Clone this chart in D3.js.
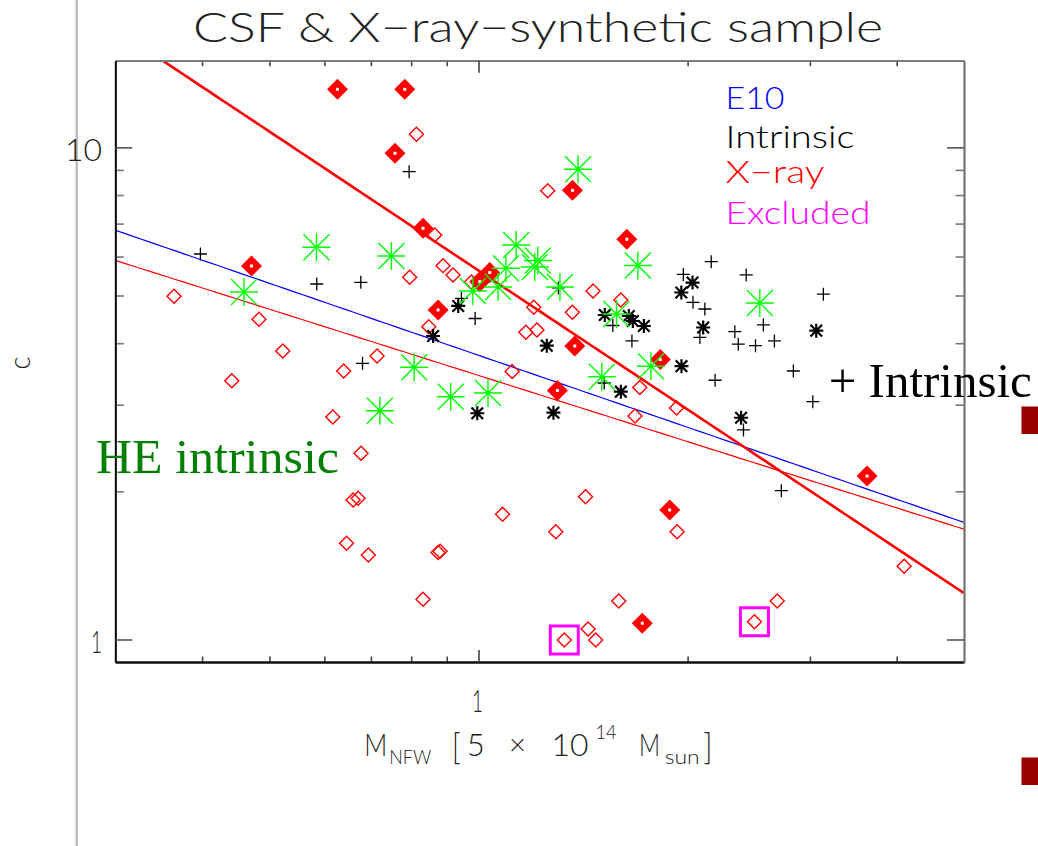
<!DOCTYPE html>
<html>
<head>
<meta charset="utf-8">
<script src="https://cdn.jsdelivr.net/npm/d3@7"></script>
<style>
  body { margin: 0; background: #fff; }
  svg { display: block; }
</style>
</head>
<body>
<svg id="chart" width="1038" height="846"></svg>
<script>
// Mass in units of 5e14 Msun, c = NFW concentration

// X-ray, open diamonds
const xrayM = [0.814, 0.865, 0.889, 0.919, 0.796, 0.3645, 0.483, 0.5227, 0.4414, 0.6397,
  0.7145, 0.848, 0.617, 0.6776, 0.66, 0.671, 0.6457, 0.694, 0.8747, 0.8805,
  1.083, 1.118, 0.832, 0.977, 1.201, 1.365, 1.462, 1.603, 1.17, 1.214,
  1.707, 1.928, 1.68, 1.258, 1.426, 1.292, 1.932, 4.10, 1.592, 2.692,
  1.438, 1.475, 1.329, 2.496];
const xrayC = [10.63, 6.637, 5.75, 5.505, 5.445, 4.982, 4.473, 3.857, 3.357, 3.512,
  3.768, 4.321, 2.832, 2.39, 1.92, 1.936, 1.569, 1.485, 1.502, 1.511,
  1.796, 3.504, 1.207, 5.326, 4.732, 4.623, 5.107, 4.896, 4.209, 4.255,
  3.251, 2.954, 2.846, 8.166, 1.951, 1.656, 1.656, 1.408, 1.197, 1.197,
  1.05, 0.998, 0.998, 1.087];

// X-ray, bold diamonds
const xrayBoldM = [0.6266, 0.7832, 0.7583, 0.4712, 0.8322, 1.3655, 1.635, 1.004, 1.038, 0.8747,
  1.376, 1.827, 1.299, 3.626, 1.885, 1.721];
const xrayBoldC = [13.12, 13.12, 9.727, 5.741, 6.847, 8.179, 6.505, 5.335, 5.565, 4.673,
  3.948, 3.707, 3.206, 2.148, 1.833, 1.079];

// Excluded clusters (boxed)
const excludedM = [1.329, 2.496];
const excludedC = [0.998, 1.087];

// Intrinsic, plus signs
const intrinsicM = [0.7946, 0.3978, 0.585, 0.677, 0.6808, 0.989, 0.945, 1.303, 1.561, 1.663,
  1.517, 2.163, 1.972, 2.429, 3.137, 2.036, 2.118, 2.571, 2.339, 2.366,
  2.505, 2.667, 2.083, 2.191, 2.84, 3.029, 2.407, 2.729];
const intrinsicC = [8.925, 6.072, 5.277, 5.318, 3.641, 4.49, 4.931, 5.18, 4.345, 4.043,
  3.32, 5.858, 5.517, 5.505, 5.031, 4.843, 4.694, 4.356, 4.221, 3.981,
  3.954, 4.043, 4.109, 3.363, 3.512, 3.042, 2.666, 2.006];

// Intrinsic, asterisks
const intrinsicStarM = [0.935, 0.8603, 1.254, 1.52, 1.646, 1.668, 1.73, 0.996, 1.282, 1.603,
  1.96, 2.106, 2.033, 1.959, 2.388, 3.064];
const intrinsicStarC = [4.761, 4.137, 3.954, 4.564, 4.543, 4.438, 4.335, 2.882, 2.89, 3.188,
  3.592, 4.305, 5.313, 5.071, 2.822, 4.242];

// HE intrinsic, large green asterisks
const heM = [0.5844, 0.7493, 0.4597, 1.391, 1.133, 1.217, 1.205, 1.095, 1.067, 0.9813,
  1.31, 1.696, 1.58, 2.541, 1.505, 1.771, 0.808, 0.721, 0.912, 1.032];
const heC = [6.266, 6.016, 5.083, 9.026, 6.333, 5.89, 5.714, 5.68, 5.204, 5.107,
  5.204, 5.754, 4.585, 4.829, 3.42, 3.591, 3.574, 2.917, 3.114, 3.169];

// Power-law relations c = norm * M^slope
const fitNames = ["E10", "X-ray", "X-ray steep"];
const fitNorm = [3.78, 3.44, 5.62];
const fitSlope = [-0.486, -0.447, -0.938];
const fitColor = ["#0000ff", "#ff0000", "#ff0000"];
const fitWidth = [1.2, 1.2, 2.6];

// Axis ticks
const xMajorTicks = [1];
const xMinorTicks = [0.4, 0.5, 0.6, 0.7, 0.8, 0.9, 2, 3, 4];
const yMajorTicks = [1, 10];
const yMinorTicks = [2, 3, 4, 5, 6, 7, 8, 9];

// Legend
const legendLabels = ["E10", "Intrinsic", "X\u2212ray", "Excluded"];
const legendColors = ["#0000ff", "#000000", "#ff0000", "#ff00ff"];

const thin = "Lato, 'Open Sans', sans-serif";
const serif = "'Liberation Serif', 'Times New Roman', serif";

const svg = d3.select("#chart");
const L = 115.3, R = 964, T = 60.7, B = 662;

const x = d3.scaleLog().domain([0.3, 5]).range([L, R]);
const y = d3.scaleLog().domain([0.9, 15]).range([B, T]);

// side decorations
svg.append("rect").attr("x", 75.5).attr("y", 0).attr("width", 2.5).attr("height", 846).attr("fill", "#bdbdbd");
svg.append("rect").attr("x", 1021.5).attr("y", 406.5).attr("width", 27).attr("height", 27.5).attr("fill", "#990000");
svg.append("rect").attr("x", 1021.5).attr("y", 757.5).attr("width", 27).attr("height", 27.5).attr("fill", "#990000");

svg.append("defs").append("clipPath").attr("id", "plotClip")
  .append("rect").attr("x", L).attr("y", T).attr("width", R - L).attr("height", B - T);

// relation lines
const plot = svg.append("g").attr("clip-path", "url(#plotClip)");
const mGrid = d3.range(0, 101).map(i => 0.3 * Math.pow(5 / 0.3, i / 100));
fitNorm.forEach((n, i) => {
  const line = d3.line().x(m => x(m)).y(m => y(n * Math.pow(m, fitSlope[i])));
  plot.append("path").datum(mGrid).attr("d", line)
    .attr("fill", "none").attr("stroke", fitColor[i]).attr("stroke-width", fitWidth[i]);
});

const zip = (a, b) => a.map((v, i) => [v, b[i]]);
const pts = (g, data, d, attrs) => {
  const sel = g.selectAll(null).data(data).enter().append("path")
    .attr("transform", p => `translate(${x(p[0])},${y(p[1])})`).attr("d", d);
  Object.entries(attrs).forEach(([k, v]) => sel.attr(k, v));
  return sel;
};

const marks = svg.append("g");
// open X-ray diamonds
pts(marks, zip(xrayM, xrayC), "M0,-7L7,0L0,7L-7,0Z", { fill: "none", stroke: "#ff0000", "stroke-width": 1.4 });
// bold X-ray diamonds with white centre
pts(marks, zip(xrayBoldM, xrayBoldC), "M0,-10.5L10.5,0L0,10.5L-10.5,0Z", { fill: "#ff0000", stroke: "none" });
pts(marks, zip(xrayBoldM, xrayBoldC), "M-1.5,-1.5H1.5V1.5H-1.5Z", { fill: "#ffffff" });
// intrinsic plus
pts(marks, zip(intrinsicM, intrinsicC), "M-6.5,0H6.5M0,-6.5V6.5", { fill: "none", stroke: "#000", "stroke-width": 1.3 });
// intrinsic asterisks
pts(marks, zip(intrinsicStarM, intrinsicStarC), "M-7,0H7M0,-7V7M-5.8,-5.8L5.8,5.8M-5.8,5.8L5.8,-5.8", { fill: "none", stroke: "#000", "stroke-width": 2.2 });
// HE intrinsic asterisks
pts(marks, zip(heM, heC), "M-14,0H14M0,-14V14M-13,-13L13,13M-13,13L13,-13", { fill: "none", stroke: "#00ff00", "stroke-width": 1.4 });
// excluded boxes
pts(marks, zip(excludedM, excludedC), "M-14,-14H14V14H-14Z", { fill: "none", stroke: "#ff00ff", "stroke-width": 3 });

// axes
function styleAxis(g, lineColor, tickColor) {
  g.select(".domain").attr("stroke", lineColor).attr("stroke-width", 1.8);
  g.selectAll(".tick line").attr("stroke", tickColor).attr("stroke-width", 1.6);
  g.selectAll(".tick text").remove();
}
const mk = (axisFn, scale, ticks, size) => axisFn(scale).tickValues(ticks).tickSizeInner(size).tickSizeOuter(0).tickFormat("");

const axes = svg.append("g");
[[d3.axisBottom, B, "#111"], [d3.axisTop, T, "#777"]].forEach(([fn, pos, col]) => {
  const g1 = axes.append("g").attr("transform", `translate(0,${pos})`).call(mk(fn, x, xMinorTicks, -5.5));
  styleAxis(g1, col, "#444");
  const g2 = axes.append("g").attr("transform", `translate(0,${pos})`).call(mk(fn, x, xMajorTicks, -12));
  styleAxis(g2, col, "#444");
});
[[d3.axisLeft, L, "#111"], [d3.axisRight, R, "#777"]].forEach(([fn, pos, col]) => {
  const g1 = axes.append("g").attr("transform", `translate(${pos},0)`).call(mk(fn, y, yMinorTicks, -8.5));
  styleAxis(g1, col, "#777");
  const g2 = axes.append("g").attr("transform", `translate(${pos},0)`).call(mk(fn, y, yMajorTicks, -17));
  styleAxis(g2, col, "#555");
});

// text helper
const txt = (s, px, py, opts = {}) => {
  const t = svg.append("text").attr("x", px).attr("y", py).text(s)
    .attr("font-family", opts.family || thin).attr("font-weight", opts.weight || 300)
    .attr("font-size", opts.size || 30).attr("fill", opts.color || "#222");
  if (opts.anchor) t.attr("text-anchor", opts.anchor);
  if (opts.len) t.attr("textLength", opts.len).attr("lengthAdjust", "spacingAndGlyphs");
  if (opts.transform) t.attr("transform", opts.transform);
  return t;
};

// tick labels
yMajorTicks.forEach(v => txt(String(v), 102, y(v) + 13.5, { anchor: "end", size: 32, len: v >= 10 ? 37 : 11 }));
xMajorTicks.forEach(v => txt(String(v), x(v) - 1, 712, { anchor: "middle", size: 32, len: 11 }));

// title
txt("CSF & X\u2212ray\u2212synthetic sample", 193, 42, { size: 42, len: 690 });

// axis titles
txt("c", 29.5, 363, { anchor: "middle", size: 30, len: 13, transform: "rotate(-90,29.5,363)" });
txt("M", 364.3, 756, { size: 32, len: 23 });
txt("NFW", 389.3, 764, { size: 20, len: 42 });
txt("[", 451.7, 759, { size: 36, len: 9 });
txt("5", 466.7, 756, { size: 32, len: 18 });
txt("\u00d7", 509, 755, { size: 30, len: 17 });
txt("10", 551.5, 756, { size: 32, len: 37 });
txt("14", 595.4, 739, { size: 20, len: 21 });
txt("M", 639, 756, { size: 32, len: 21 });
txt("sun", 664.7, 764, { size: 20, len: 35 });
txt("]", 703.5, 759, { size: 36, len: 9 });

// legend
const legendBase = [108.7, 147.7, 183, 224.3];
const legendLen = [59, 129, 99, 145];
legendLabels.forEach((s, i) => txt(s, 725.5, legendBase[i], { size: 31.5, color: legendColors[i], len: legendLen[i] }));

// annotations
txt("HE intrinsic", 96, 473.3, { family: serif, weight: 400, size: 49, color: "#008000", len: 243 });
txt("+ Intrinsic", 828.7, 396.7, { family: serif, weight: 400, size: 49, color: "#000000" });
</script>
</body>
</html>
